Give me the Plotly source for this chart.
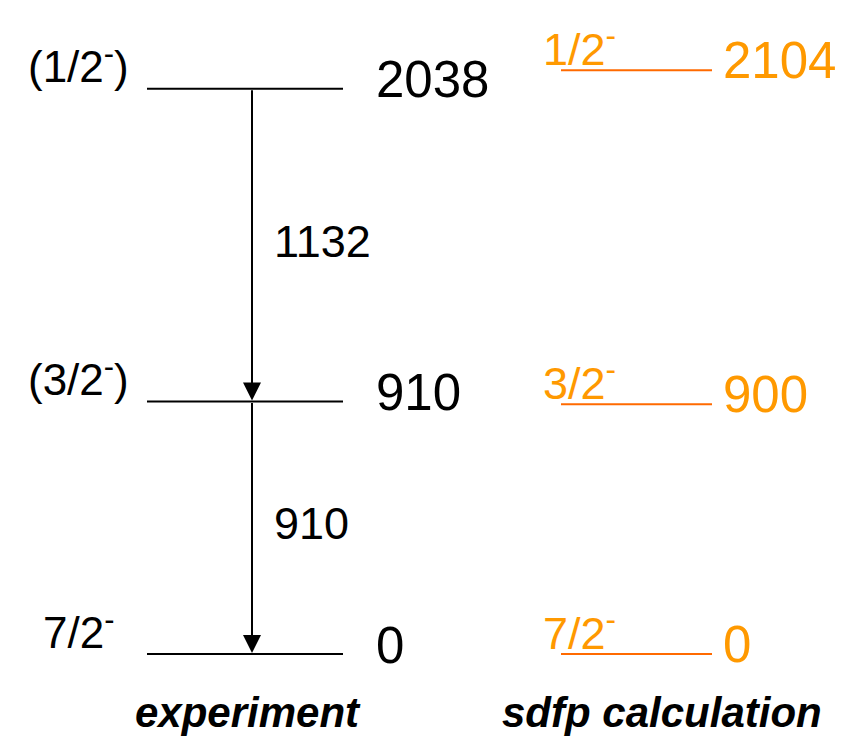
import plotly.graph_objects as go

# ---- data ----
exp_energies = [0, 910, 2038]
exp_spins = ["7/2<sup>-</sup>", "(3/2<sup>-</sup>)", "(1/2<sup>-</sup>)"]
calc_energies = [0, 900, 2104]
calc_spins = ["7/2<sup>-</sup>", "3/2<sup>-</sup>", "1/2<sup>-</sup>"]
trans_from = [2038, 910]
trans_to = [910, 0]
trans_energies = [1132, 910]
column_titles = ["experiment", "sdfp calculation"]

# ---- style ----
FONT = "Liberation Sans, Arial, sans-serif"
BLACK = "#000000"
ORANGE_TXT = "#FF9900"
ORANGE_LINE = "#FF6A00"
EXP_X = (147, 343)
CALC_X = (561, 712)
ARROW_X = 252

fig = go.Figure()
ann = []

for e, s in zip(exp_energies, exp_spins):
    fig.add_trace(go.Scatter(x=list(EXP_X), y=[e, e], mode="lines",
                             line=dict(color=BLACK, width=2), hoverinfo="skip", showlegend=False))
    ann.append(dict(x=78, y=e, text=s, showarrow=False, xanchor="center", yanchor="middle",
                    yshift=25, font=dict(size=44, color=BLACK, family=FONT)))
    ann.append(dict(x=374, y=e, text=str(e), showarrow=False, xanchor="left", yanchor="middle",
                    yshift=9, font=dict(size=51, color=BLACK, family=FONT)))

for e, s in zip(calc_energies, calc_spins):
    fig.add_trace(go.Scatter(x=list(CALC_X), y=[e, e], mode="lines",
                             line=dict(color=ORANGE_LINE, width=2), hoverinfo="skip", showlegend=False))
    ann.append(dict(x=579, y=e, text=s, showarrow=False, xanchor="center", yanchor="middle",
                    yshift=24, font=dict(size=45, color=ORANGE_TXT, family=FONT)))
    ann.append(dict(x=721, y=e, text=str(e), showarrow=False, xanchor="left", yanchor="middle",
                    yshift=10, font=dict(size=51, color=ORANGE_TXT, family=FONT)))

for f, t, eg in zip(trans_from, trans_to, trans_energies):
    ann.append(dict(x=ARROW_X, y=t, ax=ARROW_X, ay=f, xref="x", yref="y", axref="x", ayref="y",
                    text="", showarrow=True, arrowhead=2, arrowsize=1.8, arrowwidth=2,
                    arrowcolor=BLACK, standoff=1))
    ann.append(dict(x=272, y=(f + t) / 2, text=str(eg), showarrow=False, xanchor="left",
                    yanchor="middle", yshift=4, font=dict(size=45, color=BLACK, family=FONT)))

for xc, title in zip([248, 662], column_titles):
    ann.append(dict(x=xc, y=(737 - 712) / 729, yref="paper", text="<b><i>" + title + "</i></b>",
                    showarrow=False, xanchor="center", yanchor="middle",
                    font=dict(size=42, color=BLACK, family=FONT)))

# page has an 8px body margin: figure is sized/offset so that axis units equal page pixels
fig.update_layout(
    width=842, height=729,
    margin=dict(l=0, r=0, t=0, b=0),
    paper_bgcolor="white", plot_bgcolor="white",
    xaxis=dict(range=[8, 850], visible=False, fixedrange=True),
    yaxis=dict(range=[-299.2, 2328.8], visible=False, fixedrange=True),
    annotations=ann,
    showlegend=False,
)

fig.write_html("out.html")
